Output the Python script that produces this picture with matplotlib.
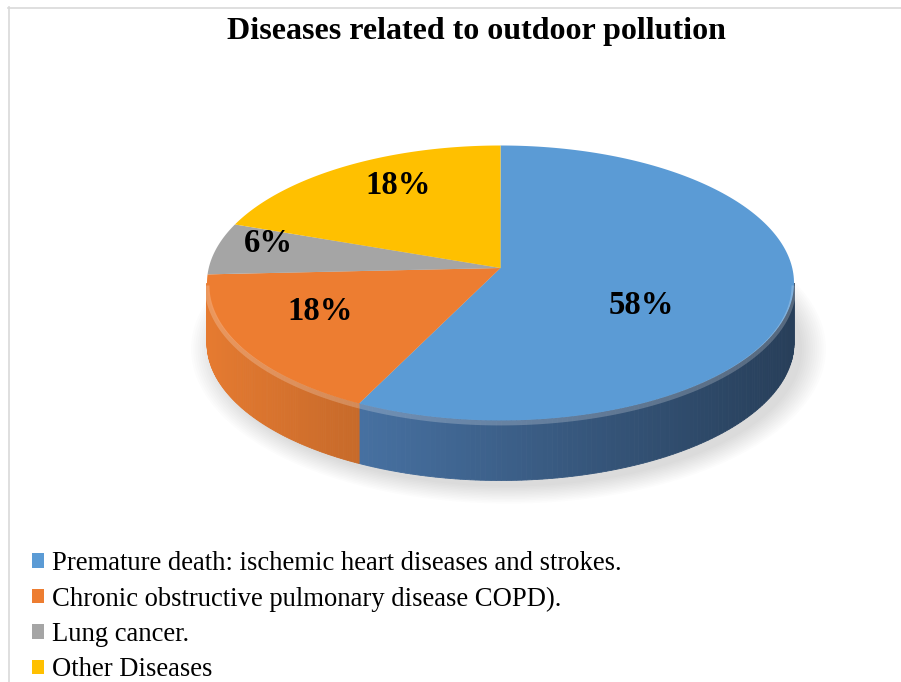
import numpy as np
import matplotlib
matplotlib.use("Agg")
import matplotlib.pyplot as plt
from matplotlib.patches import Polygon, Ellipse, Rectangle
from matplotlib.lines import Line2D

# ---------------- data ----------------
categories = [
    "Premature death: ischemic heart diseases and strokes.",
    "Chronic obstructive pulmonary disease COPD).",
    "Lung cancer.",
    "Other Diseases",
]
values = [58, 18, 6, 18]
value_labels = ["58%", "18%", "6%", "18%"]

# ---------------- style ----------------
top_colors = ["#5b9bd5", "#ed7d31", "#a5a5a5", "#ffc000"]
side_colors = [(0.32, 0.51, 0.73), (0.90, 0.48, 0.19), (0.55, 0.55, 0.55), (0.85, 0.65, 0.0)]
serif = ["Liberation Serif", "DejaVu Serif"]

W, H = 901, 682
fig = plt.figure(figsize=(W / 100, H / 100), dpi=100)
ax = fig.add_axes([0, 0, 1, 1])
ax.set_xlim(0, W)
ax.set_ylim(H, 0)
ax.axis("off")

# geometry of the projected pie (pixel units)
cx, cy = 500.5, 283.0
rx, ry = 293.5, 137.5
depth = 60.0
apex = (500.5, 268.0)

def ell(theta_deg):
    t = np.radians(theta_deg)
    return cx + rx * np.cos(t), cy - ry * np.sin(t)

# soft shadow
for k in range(12):
    grow = 1.0 + 0.004 * k
    ax.add_patch(Ellipse((cx + 8, cy + depth + 6), 2 * rx * grow + 2 * k,
                         2 * ry * grow + 2 * k, facecolor="#808080",
                         edgecolor="none", alpha=0.025, zorder=1))

total = float(sum(values))
bounds = [90.0]
for v in values:
    bounds.append(bounds[-1] - 360.0 * v / total)

# side walls (front half only)
for i in range(len(values)):
    a0, a1 = bounds[i], bounds[i + 1]
    lo, hi = max(a1, -180.0), min(a0, 0.0)
    if lo >= hi:
        continue
    ts = np.linspace(hi, lo, 120)
    for j in range(len(ts) - 1):
        x0, y0 = ell(ts[j])
        x1, y1 = ell(ts[j + 1])
        xm = 0.5 * (x0 + x1)
        f = (xm - (cx - rx)) / (2 * rx)
        shade = 1.0 - 0.52 * f
        c = tuple(min(1.0, ch * shade) for ch in side_colors[i])
        ax.add_patch(Polygon([(x0, y0), (x1, y1), (x1, y1 + depth), (x0, y0 + depth)],
                             closed=True, facecolor=c, edgecolor=c, lw=0.6, zorder=2))

# top surfaces
for i in range(len(values)):
    a0, a1 = bounds[i], bounds[i + 1]
    ts = np.linspace(a0, a1, 200)
    pts = [apex] + [ell(t) for t in ts]
    ax.add_patch(Polygon(pts, closed=True, facecolor=top_colors[i],
                         edgecolor="none", zorder=3))

# rim highlight along the front edge (bevel)
for i in range(len(values)):
    a0, a1 = bounds[i], bounds[i + 1]
    lo, hi = max(a1, -180.0), min(a0, 0.0)
    if lo >= hi:
        continue
    ts = np.linspace(hi, lo, 100)
    xs, ys = zip(*[ell(t) for t in ts])
    ax.plot(xs, np.array(ys) + 2.5, color="white", alpha=0.22, lw=3.5, zorder=4,
            solid_capstyle="butt")

# value labels
label_pos = [(641, 305), (320, 312), (268, 243), (398, 185)]
for (x, y), lab in zip(label_pos, value_labels):
    ax.text(x, y, lab, ha="center", va="center", fontsize=23.5, fontweight="bold",
            family=serif, color="black", zorder=5)

# title
ax.text(476, 31, "Diseases related to outdoor pollution", ha="center", va="center",
        fontsize=23, fontweight="bold", family=serif, color="black")

# frame lines (top and left)
ax.add_line(Line2D([8, W], [7.5, 7.5], color="#d9d9d9", lw=1.2))
ax.add_line(Line2D([8.5, 8.5], [7, H], color="#d9d9d9", lw=1.2))

# legend
handles = [Rectangle((0, 0), 1, 1, facecolor=c, edgecolor="none") for c in top_colors]
leg = fig.legend(handles, categories, loc="upper left",
                 bbox_to_anchor=(32 / W, 1 - 551 / H), frameon=False,
                 prop={"family": serif, "size": 19.2},
                 handlelength=0.46, handleheight=0.46, handletextpad=0.28,
                 labelspacing=0.39, borderaxespad=0, borderpad=0)

fig.savefig("out.png", dpi=100)
